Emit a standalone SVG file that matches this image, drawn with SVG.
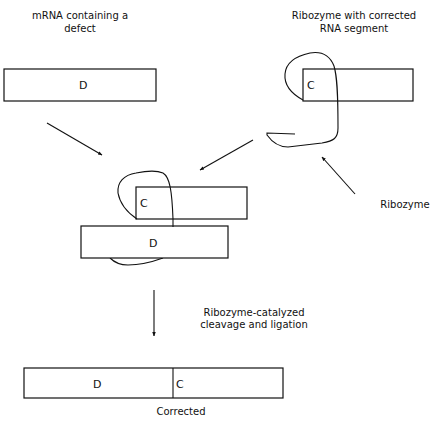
<svg xmlns="http://www.w3.org/2000/svg" width="431" height="429" viewBox="0 0 431 429">
<style>
.box{fill:#fff;stroke:#111;stroke-width:1.2}
.ln{fill:none;stroke:#111;stroke-width:1.1}
.lab{font-family:"DejaVu Sans",sans-serif;font-size:10px;fill:#111;text-anchor:middle}
.big{font-family:"DejaVu Sans",sans-serif;font-size:11px;fill:#111}
</style>
<defs>
<marker id="ah" viewBox="0 0 10 10" refX="9" refY="5" markerWidth="4" markerHeight="4" orient="auto" markerUnits="strokeWidth">
<path d="M0,1 L10,5 L0,9 z" fill="#111"/>
</marker>
</defs>
<rect width="431" height="429" fill="#fff"/>
<g id="label-mrna"><text class="lab" x="80" y="19">mRNA containing a</text><text class="lab" x="80" y="32">defect</text></g>
<g id="label-ribozyme-corrected"><text class="lab" x="354" y="19">Ribozyme with corrected</text><text class="lab" x="354" y="32">RNA segment</text></g>
<g id="mrna"><rect class="box" x="4" y="69" width="152" height="32"/><text class="big" x="79" y="89">D</text></g>
<g id="ribozyme-top">
<rect class="box" x="303" y="69" width="110" height="32"/><text class="big" x="307" y="89">C</text>
<path class="ln" d="M303,100 C292,94 284,86 285,74 C286,62 296,56 310,53 C322,51 330,56 334,66 C337,76 338,90 338,128 C338,138 334,141 322,143 L288,147 C278,147 272,142 267,135 L267,133 L295,134"/>
</g>
<g id="label-ribozyme"><text class="lab" x="405" y="208">Ribozyme</text></g>
<g id="complex">
<path class="ln" d="M110,258 C114,262 120,265 128,265 C142,265 152,262 163,258"/>
<rect class="box" x="81" y="226" width="147" height="32"/><text class="big" x="149" y="247">D</text>
<path class="ln" d="M173,227 L173,218"/>
<rect class="box" x="136" y="187" width="111" height="32"/><text class="big" x="140" y="207">C</text>
<path class="ln" d="M137,219 C128,213 120,204 118,193 C117,182 124,175 136,173 C146,171 156,170 163,173 C170,177 172,192 173,219"/>
</g>
<g id="corrected"><rect class="box" x="24" y="368" width="259" height="30"/><line class="ln" x1="173" y1="368" x2="173" y2="398"/><text class="big" x="93" y="388">D</text><text class="big" x="176" y="388">C</text></g>
<g id="label-catalyzed"><text class="lab" x="254" y="316">Ribozyme-catalyzed</text><text class="lab" x="254" y="328">cleavage and ligation</text></g>
<g id="label-corrected"><text class="lab" x="181" y="415">Corrected</text></g>
<g id="connectors">
<line class="ln" x1="47" y1="123" x2="102" y2="155" marker-end="url(#ah)"/>
<line class="ln" x1="253" y1="140" x2="200" y2="170" marker-end="url(#ah)"/>
<line class="ln" x1="355" y1="194" x2="322" y2="157" marker-end="url(#ah)"/>
<line class="ln" x1="154" y1="290" x2="154" y2="336" marker-end="url(#ah)"/>
</g>
</svg>
